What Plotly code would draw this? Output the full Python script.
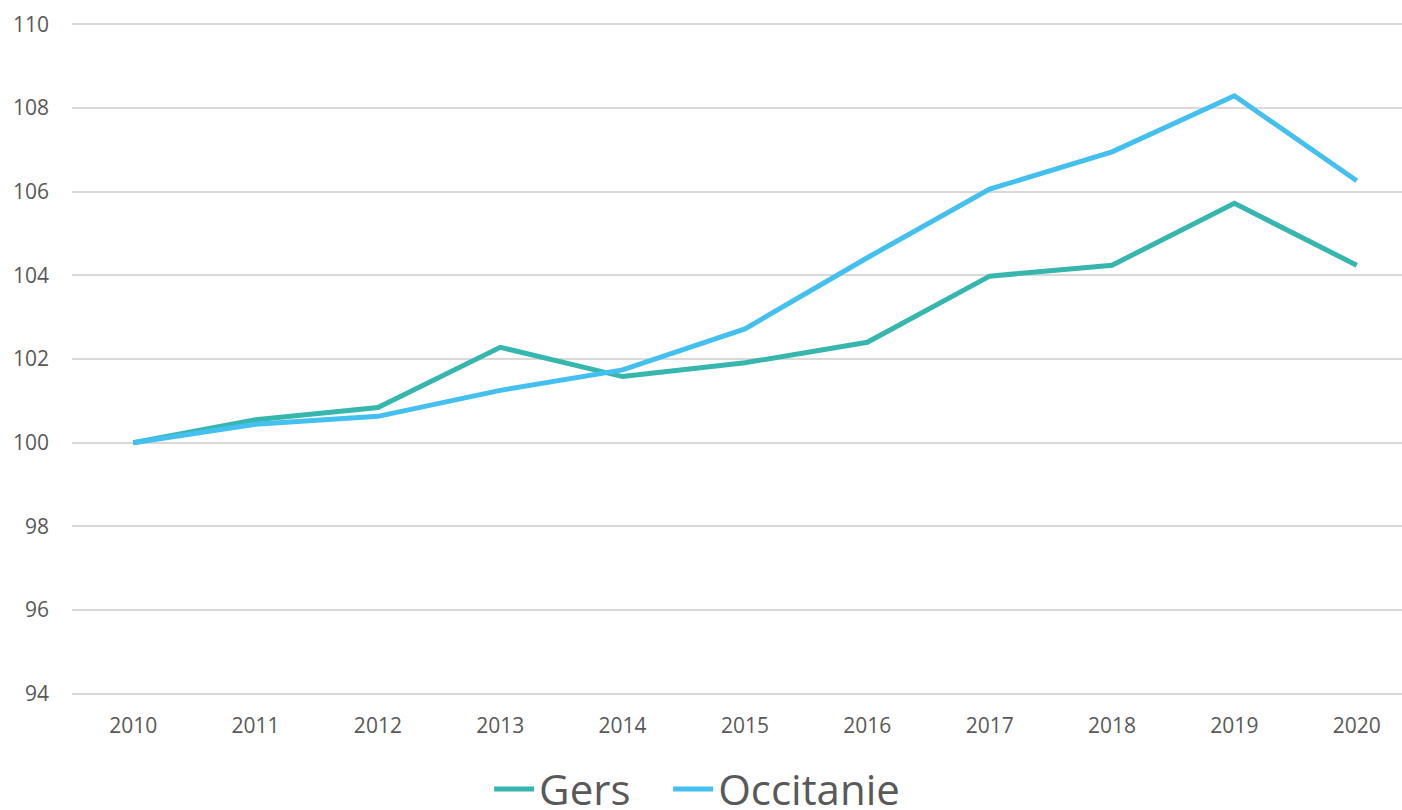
import plotly.graph_objects as go

years = ["2010", "2011", "2012", "2013", "2014", "2015", "2016", "2017", "2018", "2019", "2020"]
gers = [100, 100.55, 100.84, 102.28, 101.58, 101.91, 102.4, 103.98, 104.24, 105.72, 104.24]
occitanie = [100, 100.44, 100.63, 101.25, 101.74, 102.72, 104.42, 106.06, 106.95, 108.29, 106.26]
y_ticks = [94, 96, 98, 100, 102, 104, 106, 108, 110]

GREY = "#595959"

fig = go.Figure()
# non-breaking spaces widen the gap between the two legend entries
fig.add_trace(go.Scatter(x=years, y=gers, name="Gers\u00a0\u00a0\u00a0", mode="lines",
                         line=dict(color="#37B6AE", width=5)))
fig.add_trace(go.Scatter(x=years, y=occitanie, name="Occitanie", mode="lines",
                         line=dict(color="#43C0F0", width=5)))

fig.update_xaxes(
    type="category",
    range=[-0.5, 10.37],
    showgrid=False,
    zeroline=False,
    showline=False,
    ticks="",
    ticklabelstandoff=16,
    tickfont=dict(family="Open Sans", size=21, color=GREY),
)
# range padded a hair so the 94 and 110 gridlines are drawn
fig.update_yaxes(
    range=[93.97, 110.03],
    tickvals=y_ticks,
    showgrid=True,
    gridcolor="#D9D9D9",
    gridwidth=1.5,
    zeroline=False,
    showline=False,
    ticks="",
    ticklabelstandoff=22,
    tickfont=dict(family="Open Sans", size=21, color=GREY),
)

fig.update_layout(
    width=1402, height=810,
    margin=dict(l=72, r=0, t=23, b=115, autoexpand=False),
    plot_bgcolor="white",
    paper_bgcolor="white",
    showlegend=True,
    legend=dict(
        orientation="h",
        x=0.47, xanchor="center",
        y=-0.140, yanchor="middle",
        font=dict(family="Open Sans", size=42, color=GREY),
        itemwidth=40,
        tracegroupgap=0,
    ),
)

# drop the default body margin so the figure sits flush with the window
fig.write_html("out.html", config={"displayModeBar": False},
               post_script="document.body.style.margin='0';")
